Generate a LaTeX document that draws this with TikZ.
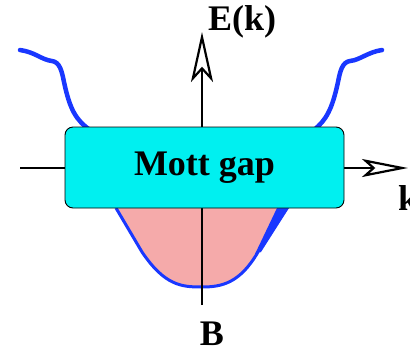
\documentclass[tikz,border=0pt]{standalone}
\usepackage{fontspec}
\setmainfont{Liberation Serif}
\usetikzlibrary{arrows.meta, positioning}

\definecolor{bandblue}{RGB}{25,55,255}
\definecolor{gapcyan}{RGB}{0,240,240}
\definecolor{holepink}{RGB}{245,170,170}

\begin{document}
\begin{tikzpicture}[
        x=1pt, y=-1pt,
        every node/.style={font=\fontsize{36}{42}\selectfont\bfseries, inner sep=0pt},
        axis/.style={line width=1.7pt}
    ]

    \tikzset{
    uptip/.style={-{Stealth[open, fill=white, length=50pt, width=22pt, inset=12pt, line width=2.2pt]}},
    righttip/.style={-{Stealth[open, fill=white, length=46pt, width=18pt, inset=10pt, line width=2.2pt]}},
    band/.style={draw=bandblue, line width=4.5pt, line cap=round}
}

    \useasboundingbox (0,0) rectangle (410,357);

    % filled lower band
    \fill[holepink] (116,208) -- (142,252) .. controls (165,286) and (182,287) .. (202,287)
        .. controls (222,287) and (240,283) .. (258,252) -- (289,208) -- cycle;
    \draw[bandblue, line width=3pt] (116,208) -- (142,252) .. controls (165,286) and (182,287) .. (202,287)
        .. controls (222,287) and (240,283) .. (258,252);
    \fill[bandblue] (255,254) -- (277,208) -- (289,208) -- (261,252) -- cycle;

    % upper band
    \draw[band] (20,50) .. controls (35,52) and (42,60) .. (52,61)
        .. controls (60,62) and (62,72) .. (64,82) .. controls (70,110) and (76,120) .. (90,130);
    \draw[band] (382,50) .. controls (368,52) and (360,60) .. (350,61)
        .. controls (342,62) and (340,72) .. (338,82) .. controls (332,110) and (326,120) .. (314,130);

    % axes
    \coordinate (Bend) at (202,305);
    \coordinate (Etip) at (202,32);
    \coordinate (kstart) at (20,168);
    \coordinate (ktip) at (408,168);
    \draw[axis, uptip] (Bend) -- (Etip);
    \draw[axis, righttip] (kstart) -- (ktip);

    \node (gap) [draw, fill=gapcyan, line width=0.9pt, rounded corners=8pt,
        minimum width=279pt, minimum height=81pt] at (204.5,167.5) {Mott gap};

    \node (E) [anchor=base west] at (208,30) {E(k)};
    \node (k) [anchor=base west] at (398,210) {k};
    \node (B) [anchor=base] at (212,345) {B};
    \end{tikzpicture}
\end{document}
